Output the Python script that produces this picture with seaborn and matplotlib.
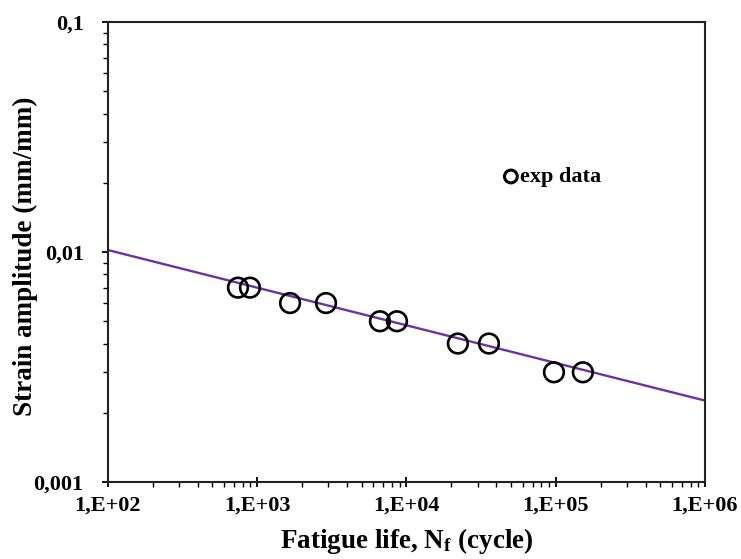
import matplotlib
matplotlib.use("Agg")
import matplotlib.pyplot as plt
import seaborn as sns
import pandas as pd
import numpy as np
from matplotlib.ticker import FixedLocator, LogLocator, NullFormatter

# data
cycles = [743, 894, 1660, 2890, 6640, 8640, 22100, 35700, 97300, 152000]
strain = [0.007, 0.007, 0.006, 0.006, 0.005, 0.005, 0.004, 0.004, 0.003, 0.003]
fit_cycles = [1e2, 1e6]
fit_strain = [0.0102, 0.00226]
x_ticks = [1e2, 1e3, 1e4, 1e5, 1e6]
x_labels = ["1,E+02", "1,E+03", "1,E+04", "1,E+05", "1,E+06"]
y_ticks = [0.001, 0.01, 0.1]
y_labels = ["0,001", "0,01", "0,1"]

sns.set_theme(style="white")
plt.rcParams['font.family'] = ['Liberation Serif', 'DejaVu Serif']
plt.rcParams['font.weight'] = 'bold'
plt.rcParams['text.color'] = 'black'
plt.rcParams['axes.labelcolor'] = 'black'
plt.rcParams['mathtext.fontset'] = 'custom'
plt.rcParams['mathtext.rm'] = 'Liberation Serif:bold'
plt.rcParams['mathtext.bf'] = 'Liberation Serif:bold'
plt.rcParams['mathtext.it'] = 'Liberation Serif:bold'

df = pd.DataFrame({"Nf": cycles, "strain": strain})
fit = pd.DataFrame({"Nf": fit_cycles, "strain": fit_strain})

fig = plt.figure(figsize=(7.41, 5.59), dpi=100)
ax = fig.add_axes([0.1457, 0.1377, 0.8057, 0.8229])

sns.lineplot(data=fit, x="Nf", y="strain", ax=ax, color="#7030A0", linewidth=1.7, legend=False)
sns.scatterplot(data=df, x="Nf", y="strain", ax=ax, marker="o", s=200,
                facecolors="none", edgecolor="black", linewidth=1.9, label="exp data", zorder=3)

ax.set_xscale("log")
ax.set_yscale("log")
ax.set_xlim(1e2, 1e6)
ax.set_ylim(0.001, 0.1)

ax.xaxis.set_major_locator(FixedLocator(x_ticks))
ax.set_xticklabels(x_labels)
ax.yaxis.set_major_locator(FixedLocator(y_ticks))
ax.set_yticklabels(y_labels)
ax.xaxis.set_minor_locator(LogLocator(base=10, subs=np.arange(2, 10)))
ax.yaxis.set_minor_locator(LogLocator(base=10, subs=np.arange(2, 10)))
ax.xaxis.set_minor_formatter(NullFormatter())
ax.yaxis.set_minor_formatter(NullFormatter())

ax.tick_params(axis="x", which="major", direction="inout", length=7, width=1.3,
               labelsize=16, color="black", labelcolor="black", pad=6, bottom=True)
ax.tick_params(axis="y", which="major", direction="out", length=4.5, width=1.3,
               labelsize=16, color="black", labelcolor="black", pad=13, left=True)
ax.tick_params(axis="both", which="minor", direction="out", length=3.5, width=1.0,
               color="black", bottom=True, left=True)
for lab in ax.get_xticklabels() + ax.get_yticklabels():
    lab.set_fontweight("bold")

for sp in ax.spines.values():
    sp.set_color("#222222")
    sp.set_linewidth(1.5)
    sp.set_visible(True)

ax.set_xlabel(r"Fatigue life, N$_{\mathrm{f}}$ (cycle)", fontsize=19.5, fontweight="bold", labelpad=8)
ax.set_ylabel("Strain amplitude (mm/mm)", fontsize=19.5, fontweight="bold")
ax.yaxis.set_label_coords(-0.139, 0.49)
ax.yaxis.label.set_verticalalignment("center")

leg = ax.legend(loc="center left", bbox_to_anchor=(0.66, 0.663), frameon=False,
                prop={"weight": "bold", "size": 16}, handletextpad=0.0, handlelength=0.8,
                borderpad=0, borderaxespad=0, markerscale=0.65)
for h in leg.legend_handles:
    h.set_linewidth(2.2)

fig.savefig("out.png", dpi=100)
